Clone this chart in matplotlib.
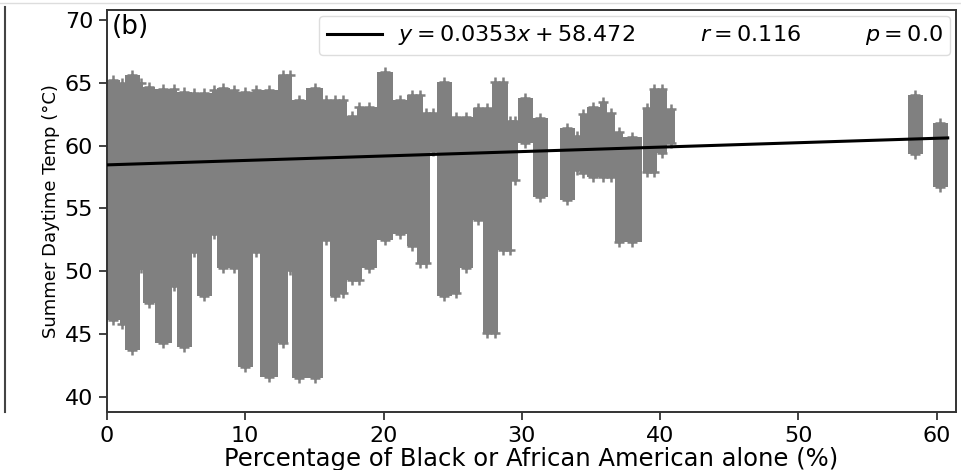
"""Summer daytime temperature vs. share of Black or African American residents."""

from __future__ import annotations

import matplotlib

matplotlib.use("Agg")

import matplotlib.pyplot as plt
import numpy as np
from matplotlib.lines import Line2D


# point-cloud envelope
col_left = [
    0.00, 0.94, 1.30, 2.39, 2.60, 3.47, 4.70, 5.06, 6.15, 6.51,
    7.59, 7.95, 8.89, 9.47, 10.56, 11.06, 12.36, 13.09, 13.38, 14.40,
    15.62, 16.12, 16.85, 17.35, 18.08, 18.44, 19.52, 20.68, 21.69, 22.42,
    22.85, 23.36, 23.86, 24.95, 25.52, 26.46, 27.19, 27.84, 28.27, 29.00,
    29.28, 29.72, 30.80, 32.76, 33.84, 34.20, 34.71, 35.65, 36.15, 36.73,
    37.31, 38.76, 39.30, 39.80, 40.50, 57.92, 59.73,
]
col_right = [
    0.94, 1.30, 2.39, 2.60, 3.47, 4.70, 5.06, 6.15, 6.51, 7.59,
    7.95, 8.89, 9.47, 10.56, 11.06, 12.36, 13.09, 13.38, 14.40, 15.62,
    16.12, 16.85, 17.35, 18.08, 18.44, 19.52, 20.68, 21.69, 22.42, 22.85,
    23.36, 23.86, 24.95, 25.52, 26.46, 27.19, 27.84, 28.27, 29.00, 29.28,
    29.72, 30.80, 31.89, 33.84, 34.20, 34.71, 35.65, 36.15, 36.73, 37.31,
    38.68, 39.30, 39.80, 40.50, 41.07, 59.00, 60.81,
]
col_low = [
    46.1, 45.8, 43.7, 50.3, 47.5, 44.3, 48.8, 44.0, 51.5, 48.0,
    53.0, 50.3, 50.3, 42.4, 51.5, 41.6, 44.3, 50.1, 41.5, 41.5,
    52.5, 48.0, 48.3, 49.3, 49.3, 50.3, 52.5, 53.0, 52.0, 50.7,
    50.7, 59.6, 48.0, 48.3, 50.3, 54.1, 45.1, 45.1, 51.7, 51.7,
    57.3, 60.2, 55.9, 55.7, 58.1, 57.8, 57.5, 57.5, 57.5, 52.3,
    52.3, 57.9, 57.9, 59.4, 60.2, 59.3, 56.7,
]
col_high = [
    65.2, 65.0, 65.6, 65.0, 64.7, 64.5, 64.5, 64.3, 64.2, 64.2,
    64.4, 64.6, 64.4, 64.3, 64.4, 64.4, 65.6, 65.6, 63.6, 64.6,
    63.6, 63.6, 63.6, 62.4, 63.1, 63.1, 65.9, 63.6, 64.0, 64.0,
    62.6, 62.6, 65.1, 62.3, 62.3, 63.0, 63.0, 65.1, 65.1, 62.0,
    62.0, 63.8, 62.2, 61.4, 60.8, 62.5, 63.1, 63.5, 62.6, 61.1,
    60.7, 63.0, 64.5, 64.5, 62.9, 64.0, 61.8,
]

fit_slope = 0.0353
fit_intercept = 58.472
fit_r = 0.116
fit_p = 0.0
fit_x_range = [0.0, 60.8]

x_ticks = [0, 10, 20, 30, 40, 50, 60]
y_ticks = [40, 45, 50, 55, 60, 65, 70]

CLOUD_COLOR = "#808080"


def draw_point_cloud(ax: plt.Axes) -> None:
    """Draw the dense '+' cloud as stacked columns with markers at the ends."""
    left = np.array(col_left)
    right = np.array(col_right)
    low = np.array(col_low)
    high = np.array(col_high)
    ax.bar(
        left,
        high - low,
        width=right - left,
        bottom=low,
        align="edge",
        color=CLOUD_COLOR,
        linewidth=0,
        zorder=2,
    )
    centers = 0.5 * (left + right)
    ax.scatter(
        np.concatenate([centers, centers]),
        np.concatenate([low, high]),
        marker="+",
        s=55,
        linewidths=1.8,
        color=CLOUD_COLOR,
        zorder=2,
    )


def main() -> None:
    fig = plt.figure(figsize=(9.61, 4.70), dpi=100)
    ax = fig.add_axes([0.1113, 0.1234, 0.8835, 0.8553])

    draw_point_cloud(ax)

    fit_x = np.array(fit_x_range)
    label = (
        rf"$y = {fit_slope}x + {fit_intercept} \qquad\quad r = {fit_r}"
        rf" \qquad\quad p = {fit_p}$"
    )
    ax.plot(fit_x, fit_slope * fit_x + fit_intercept, color="black",
            linewidth=2.2, label=label, zorder=3)

    ax.set_xlim(0, 61.4)
    ax.set_ylim(38.8, 70.8)
    ax.set_xticks(x_ticks)
    ax.set_yticks(y_ticks)
    ax.tick_params(labelsize=16, length=6, width=1.3, color="#333333", pad=4)
    for spine in ax.spines.values():
        spine.set_linewidth(1.4)
        spine.set_color("#333333")

    ax.set_xlabel("Percentage of Black or African American alone (%)",
                  fontsize=17.5, labelpad=1)
    ax.set_ylabel("Summer Daytime Temp (\u00b0C)", fontsize=13, labelpad=3)

    ax.text(0.006, 0.99, "(b)", transform=ax.transAxes, fontsize=19,
            va="top", ha="left")
    ax.legend(loc="upper right", fontsize=16, handlelength=2.5,
              handletextpad=0.7, borderaxespad=0.25, borderpad=0.35,
              framealpha=1.0, edgecolor="#dddddd")

    # edge of the neighbouring panel and the faint border above
    fig.add_artist(Line2D([0.005, 0.005], [0.123, 0.985], color="#444444",
                          linewidth=1.5))
    fig.add_artist(Line2D([0.0, 1.0], [0.993, 0.993], color="#dddddd",
                          linewidth=1.0))

    fig.savefig("out.png", dpi=100, facecolor="white")
    plt.close(fig)


if __name__ == "__main__":
    main()
